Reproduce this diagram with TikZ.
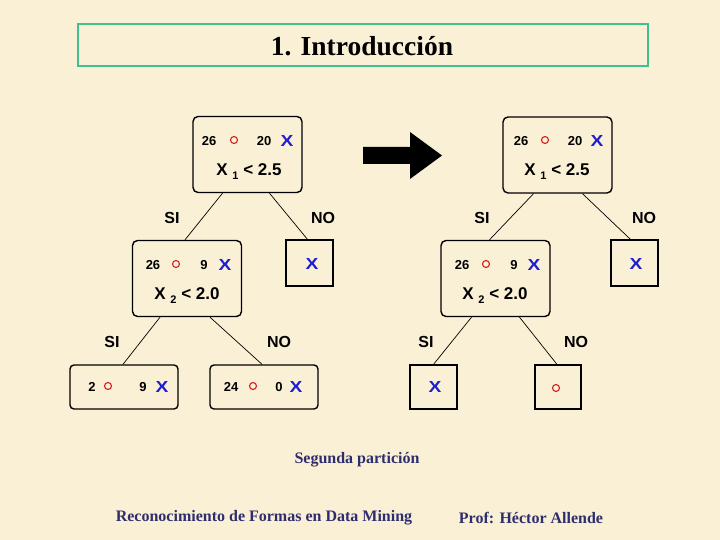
\documentclass[tikz,border=0pt]{standalone}
\usepackage{fontspec}
\setmainfont{Liberation Serif}
\newfontfamily\arialf{Liberation Sans}
\definecolor{bg}{HTML}{FAF0D6}
\definecolor{titleline}{HTML}{40C090}
\definecolor{navy}{HTML}{2E2E6E}
\definecolor{xblue}{HTML}{1E1ED2}
\definecolor{ored}{HTML}{D02020}
\tikzset{
  box/.style={draw=black, line width=1.4pt, rounded corners=5pt, minimum width=109pt, minimum height=76pt, inner sep=0},
  leafbox/.style={draw=black, line width=1.4pt, rounded corners=4pt, minimum width=108pt, minimum height=44pt, inner sep=0},
  sq/.style={draw=black, line width=1.2pt, minimum width=47pt, minimum height=46pt, inner sep=0},
  cnt/.style={font=\arialf\bfseries\fontsize{13}{13}\selectfont, inner sep=0},
  xs/.style={font=\arialf\bfseries\fontsize{16}{16}\selectfont, text=xblue, inner sep=0, xscale=1.2},
  oc/.style={circle, draw=ored, line width=1.1pt, minimum size=7pt, inner sep=0},
  cond/.style={font=\arialf\bfseries\fontsize{17}{17}\selectfont, inner sep=0},
  lab/.style={font=\arialf\bfseries\fontsize{16}{16}\selectfont, inner sep=0},
  edge/.style={draw=black, line width=0.7pt},
  foot/.style={font=\bfseries\fontsize{16}{16}\selectfont, text=navy, inner sep=0}
}
\newcommand\condtext[2]{X \raisebox{-4pt}{\fontsize{11}{11}\selectfont #1} < #2}
\begin{document}
\begin{tikzpicture}[x=1pt,y=-1pt]
\fill[bg] (0,0) rectangle (720,540);
\useasboundingbox (0,0) rectangle (720,540);

% title
\node[draw=titleline, line width=1.6pt, minimum width=570pt, minimum height=42pt, inner sep=0] (tbox) at (363,45) {};
\node[font=\bfseries\fontsize{27.5}{27.5}\selectfont, inner sep=0] (title) at (362,46) {1. Introducción};

% ---------- left tree ----------
\node[box] (L1) at (247.5,154.5) {};
\node[cnt] (L1a) at (209,141) {26};
\node[oc] (L1b) at (234,140) {};
\node[cnt] (L1c) at (264,141) {20};
\node[xs] (L1d) at (287,141) {X};
\node[cond] (L1e) at (249,172) {\condtext{1}{2.5}};

\node[box] (L2) at (187,278.5) {};
\node[cnt] (L2a) at (153,265) {26};
\node[oc] (L2b) at (176,264) {};
\node[cnt] (L2c) at (204,265) {9};
\node[xs] (L2d) at (225,265) {X};
\node[cond] (L2e) at (187,296) {\condtext{2}{2.0}};

\node[sq] (L3) at (309.5,263) {};
\node[xs] (L3a) at (312,264) {X};

\node[leafbox] (L4) at (124,387) {};
\node[cnt] (L4a) at (92,387) {2};
\node[oc] (L4b) at (108,386) {};
\node[cnt] (L4c) at (143,387) {9};
\node[xs] (L4d) at (162,387) {X};

\node[leafbox] (L5) at (264,387) {};
\node[cnt] (L5a) at (231,387) {24};
\node[oc] (L5b) at (253,386) {};
\node[cnt] (L5c) at (279,387) {0};
\node[xs] (L5d) at (296,387) {X};

\draw[edge] ([xshift=-25pt]L1.south) -- ([xshift=-2pt]L2.north);
\draw[edge] ([xshift=22pt]L1.south) -- ([xshift=-2pt]L3.north);
\draw[edge] ([xshift=-27pt]L2.south) -- ([xshift=-1pt]L4.north);
\draw[edge] ([xshift=23pt]L2.south) -- ([xshift=-2pt]L5.north);
\node[lab] (LS1) at (172,218) {SI};
\node[lab] (LN1) at (323,218) {NO};
\node[lab] (LS2) at (112,342) {SI};
\node[lab] (LN2) at (279,342) {NO};

% ---------- arrow ----------
\fill[black] (363,147) -- (410,147) -- (410,132) -- (442,155.5) -- (410,179) -- (410,164) -- (363,164) -- cycle;

% ---------- right tree ----------
\node[box] (R1) at (557.5,155) {};
\node[cnt] (R1a) at (521,141) {26};
\node[oc] (R1b) at (545,140) {};
\node[cnt] (R1c) at (575,141) {20};
\node[xs] (R1d) at (597,141) {X};
\node[cond] (R1e) at (557,172) {\condtext{1}{2.5}};

\node[box] (R2) at (495.5,278.5) {};
\node[cnt] (R2a) at (462,265) {26};
\node[oc] (R2b) at (486,264) {};
\node[cnt] (R2c) at (514,265) {9};
\node[xs] (R2d) at (534,265) {X};
\node[cond] (R2e) at (495,296) {\condtext{2}{2.0}};

\node[sq] (R3) at (634.5,263) {};
\node[xs] (R3a) at (636,264) {X};

\node[sq, minimum height=44pt] (R4) at (433.5,387) {};
\node[xs] (R4a) at (435,387) {X};

\node[sq, minimum width=46pt, minimum height=44pt] (R5) at (558,387) {};
\node[oc] (R5a) at (556,388) {};

\draw[edge] ([xshift=-24pt]R1.south) -- ([xshift=-6pt]R2.north);
\draw[edge] ([xshift=25pt]R1.south) -- ([xshift=-4pt]R3.north);
\draw[edge] ([xshift=-24pt]R2.south) -- ([xshift=0pt]R4.north);
\draw[edge] ([xshift=24pt]R2.south) -- ([xshift=-1pt]R5.north);
\node[lab] (RS1) at (482,218) {SI};
\node[lab] (RN1) at (644,218) {NO};
\node[lab] (RS2) at (426,342) {SI};
\node[lab] (RN2) at (576,342) {NO};

% ---------- footer ----------
\node[foot, font=\bfseries\fontsize{16}{16}\selectfont] (seg) at (357,460) {Segunda partición};
\node[foot] (f1) at (264,518) {Reconocimiento de Formas en Data Mining};
\node[foot] (f2) at (531,518) {Prof: Héctor Allende};
\end{tikzpicture}
\end{document}
